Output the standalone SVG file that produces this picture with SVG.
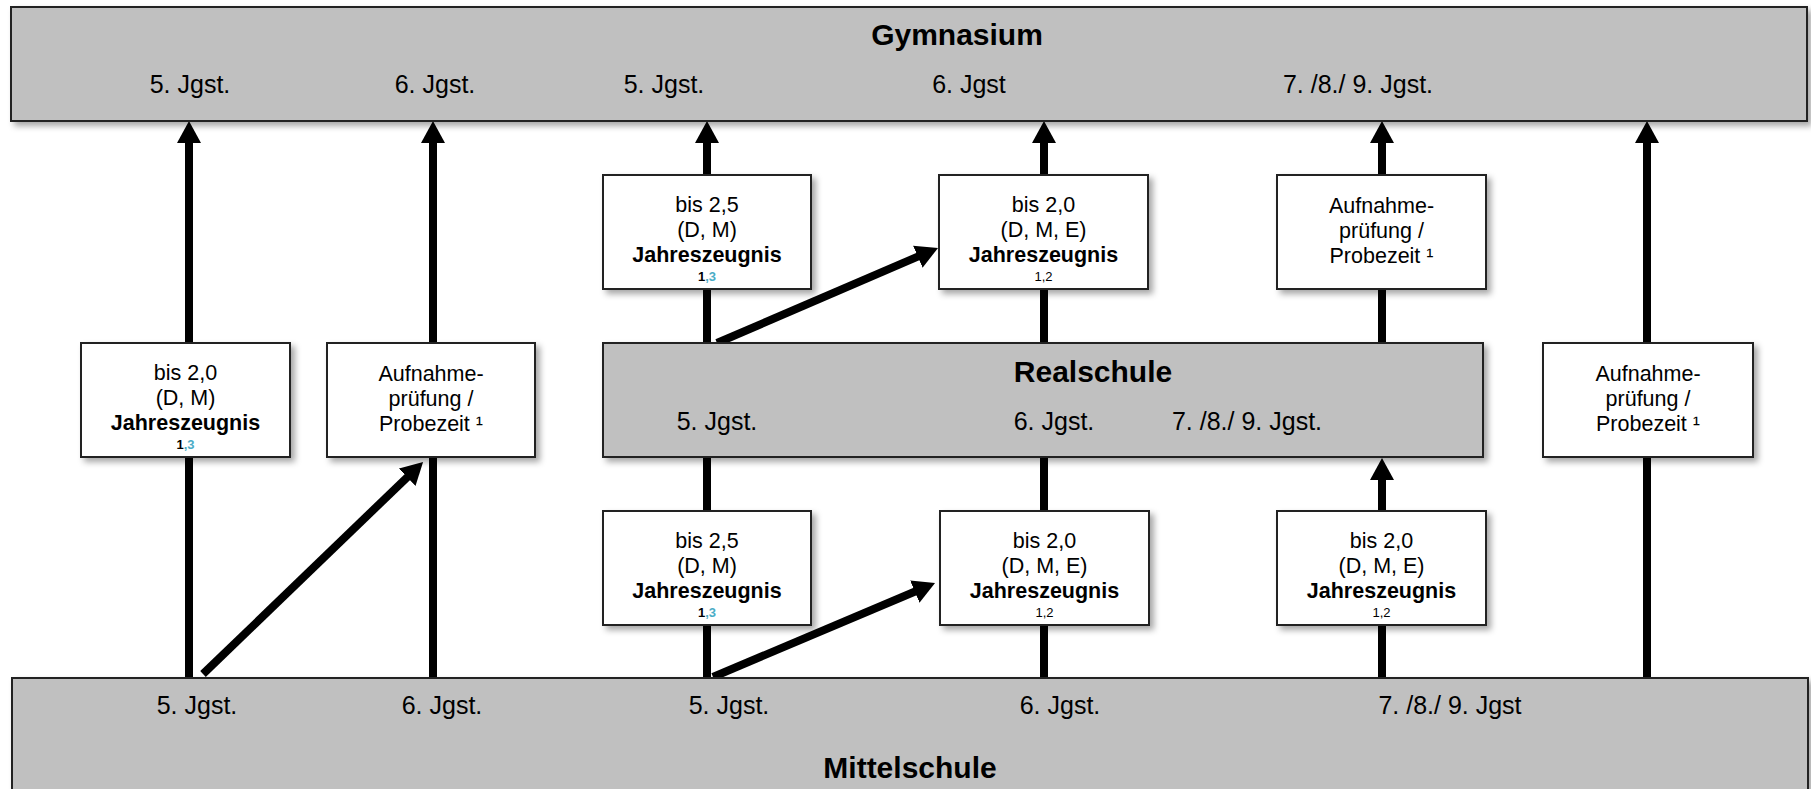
<svg xmlns="http://www.w3.org/2000/svg" width="1811" height="789" viewBox="0 0 1811 789">
<defs>
<filter id="sh" x="-5%" y="-10%" width="115%" height="130%">
<feDropShadow dx="4" dy="4" stdDeviation="3" flood-color="#000" flood-opacity="0.35"/>
</filter>
<marker id="ah" viewBox="0 0 22 24" refX="10" refY="12" markerWidth="22" markerHeight="24" markerUnits="userSpaceOnUse" orient="auto">
<path d="M0,0 L22,12 L0,24 z" fill="#000"/>
</marker>
</defs>
<style>
.school{fill:#c0c0c0;stroke:#222;stroke-width:2;filter:url(#sh)}
.box{fill:#fff;stroke:#222;stroke-width:2;filter:url(#sh)}
.ttl{font-family:"Liberation Sans",Arial,sans-serif;font-size:30px;font-weight:bold;fill:#000;text-anchor:middle}
.jg{font-family:"Liberation Sans",Arial,sans-serif;font-size:25px;fill:#000;text-anchor:middle}
.t{font-family:"Liberation Sans",Arial,sans-serif;font-size:21.5px;fill:#000;text-anchor:middle}
.b{font-weight:bold}
.fn{font-family:"Liberation Sans",Arial,sans-serif;font-size:13px;fill:#000;text-anchor:middle}
.cy{fill:#4bacc6}
.c{stroke:#000;stroke-width:8;fill:none}
.ca{stroke:#000;stroke-width:8;fill:none;marker-end:url(#ah)}
</style>

<g id="connectors">
<line class="ca" x1="189" y1="677" x2="189" y2="133"/>
<line class="ca" x1="433" y1="677" x2="433" y2="133"/>
<line class="c" x1="707" y1="677" x2="707" y2="457"/>
<line class="ca" x1="707" y1="343" x2="707" y2="133"/>
<line class="c" x1="1044" y1="677" x2="1044" y2="457"/>
<line class="ca" x1="1044" y1="343" x2="1044" y2="133"/>
<line class="ca" x1="1382" y1="677" x2="1382" y2="470"/>
<line class="ca" x1="1382" y1="343" x2="1382" y2="133"/>
<line class="ca" x1="1647" y1="677" x2="1647" y2="133"/>
<line class="ca" x1="203" y1="674" x2="414.4" y2="470.3"/>
<line class="ca" x1="713" y1="677" x2="924" y2="587.7"/>
<line class="ca" x1="717" y1="343" x2="927" y2="252.7"/>
</g>

<g id="gymnasium">
<rect class="school" x="11" y="7" width="1796" height="114"/>
<text class="ttl" x="957" y="45">Gymnasium</text>
<text class="jg" x="190" y="93">5. Jgst.</text>
<text class="jg" x="435" y="93">6. Jgst.</text>
<text class="jg" x="664" y="93">5. Jgst.</text>
<text class="jg" x="969" y="93">6. Jgst</text>
<text class="jg" x="1358" y="93">7. /8./ 9. Jgst.</text>
</g>

<g id="realschule">
<rect class="school" x="603" y="343" width="880" height="114"/>
<text class="ttl" x="1093" y="382">Realschule</text>
<text class="jg" x="717" y="430">5. Jgst.</text>
<text class="jg" x="1054" y="430">6. Jgst.</text>
<text class="jg" x="1247" y="430">7. /8./ 9. Jgst.</text>
</g>

<g id="mittelschule">
<rect class="school" x="12" y="678" width="1796" height="130"/>
<text class="jg" x="197" y="714">5. Jgst.</text>
<text class="jg" x="442" y="714">6. Jgst.</text>
<text class="jg" x="729" y="714">5. Jgst.</text>
<text class="jg" x="1060" y="714">6. Jgst.</text>
<text class="jg" x="1450" y="714">7. /8./ 9. Jgst</text>
<text class="ttl" x="910" y="778">Mittelschule</text>
</g>

<g id="box-ms-gym-5">
<rect class="box" x="81" y="343" width="209" height="114"/>
<text class="t" x="185.5" y="380">bis 2,0</text>
<text class="t" x="185.5" y="405">(D, M)</text>
<text class="t b" x="185.5" y="430">Jahreszeugnis</text>
<text class="fn b" x="185.5" y="449">1<tspan class="cy">,3</tspan></text>
</g>

<g id="box-ms-gym-6">
<rect class="box" x="327" y="343" width="208" height="114"/>
<text class="t" x="431" y="381">Aufnahme-</text>
<text class="t" x="431" y="406">prüfung /</text>
<text class="t" x="431" y="431">Probezeit ¹</text>
</g>

<g id="box-ms-gym-7">
<rect class="box" x="1543" y="343" width="210" height="114"/>
<text class="t" x="1648" y="381">Aufnahme-</text>
<text class="t" x="1648" y="406">prüfung /</text>
<text class="t" x="1648" y="431">Probezeit ¹</text>
</g>

<g id="box-rs-gym-5">
<rect class="box" x="603" y="175" width="208" height="114"/>
<text class="t" x="707" y="212">bis 2,5</text>
<text class="t" x="707" y="237">(D, M)</text>
<text class="t b" x="707" y="262">Jahreszeugnis</text>
<text class="fn b" x="707" y="281">1<tspan class="cy">,3</tspan></text>
</g>

<g id="box-rs-gym-6">
<rect class="box" x="939" y="175" width="209" height="114"/>
<text class="t" x="1043.5" y="212">bis 2,0</text>
<text class="t" x="1043.5" y="237">(D, M, E)</text>
<text class="t b" x="1043.5" y="262">Jahreszeugnis</text>
<text class="fn" x="1043.5" y="281">1,2</text>
</g>

<g id="box-rs-gym-7">
<rect class="box" x="1277" y="175" width="209" height="114"/>
<text class="t" x="1381.5" y="213">Aufnahme-</text>
<text class="t" x="1381.5" y="238">prüfung /</text>
<text class="t" x="1381.5" y="263">Probezeit ¹</text>
</g>

<g id="box-ms-rs-5">
<rect class="box" x="603" y="511" width="208" height="114"/>
<text class="t" x="707" y="548">bis 2,5</text>
<text class="t" x="707" y="573">(D, M)</text>
<text class="t b" x="707" y="598">Jahreszeugnis</text>
<text class="fn b" x="707" y="617">1<tspan class="cy">,3</tspan></text>
</g>

<g id="box-ms-rs-6">
<rect class="box" x="940" y="511" width="209" height="114"/>
<text class="t" x="1044.5" y="548">bis 2,0</text>
<text class="t" x="1044.5" y="573">(D, M, E)</text>
<text class="t b" x="1044.5" y="598">Jahreszeugnis</text>
<text class="fn" x="1044.5" y="617">1,2</text>
</g>

<g id="box-ms-rs-7">
<rect class="box" x="1277" y="511" width="209" height="114"/>
<text class="t" x="1381.5" y="548">bis 2,0</text>
<text class="t" x="1381.5" y="573">(D, M, E)</text>
<text class="t b" x="1381.5" y="598">Jahreszeugnis</text>
<text class="fn" x="1381.5" y="617">1,2</text>
</g>
</svg>
